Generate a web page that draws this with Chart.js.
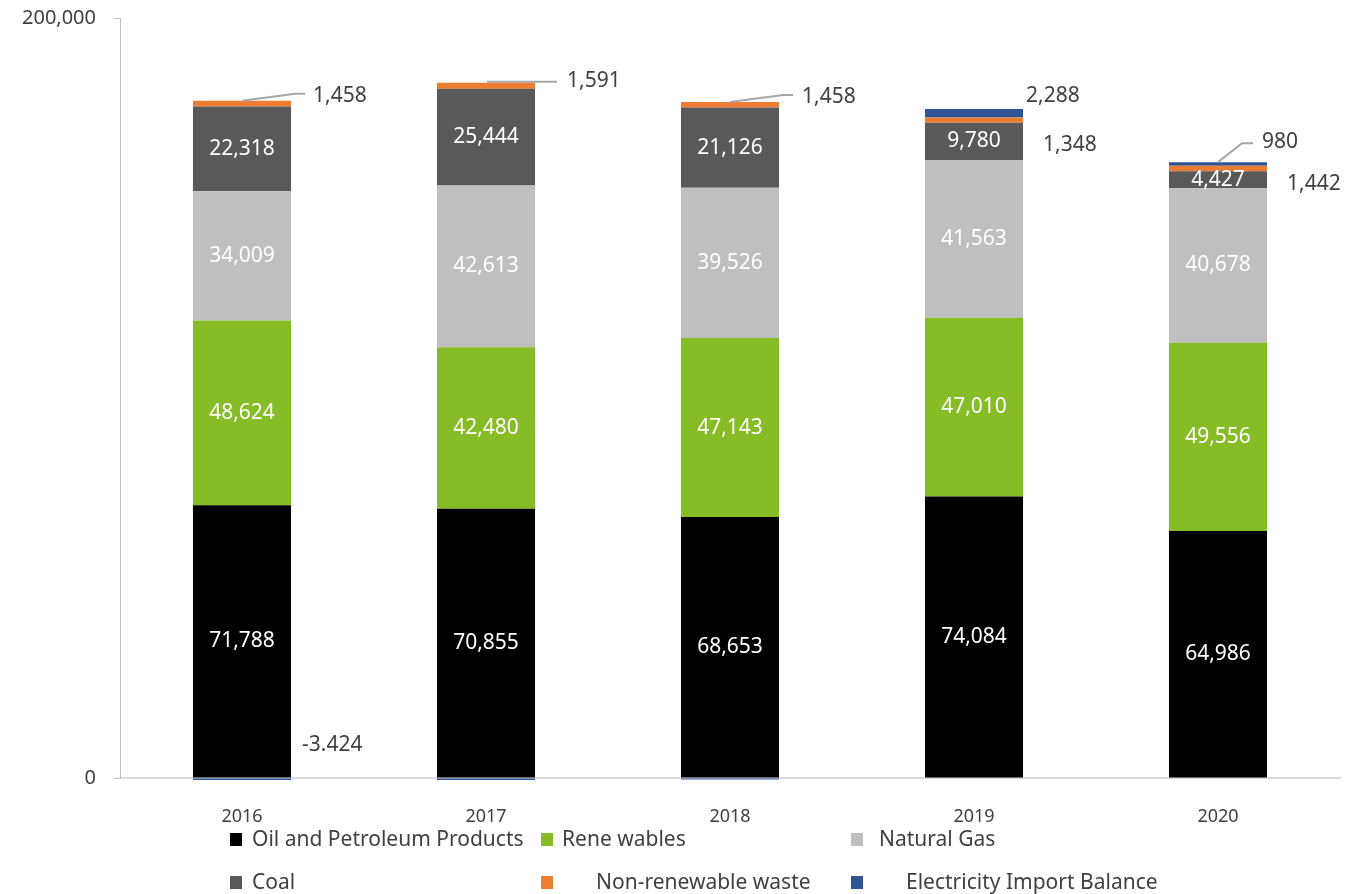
<!DOCTYPE html>
<html>
<head>
<meta charset="utf-8">
<script src="https://cdn.jsdelivr.net/npm/chart.js@4.4.1/dist/chart.umd.min.js"></script>
<style>
  html, body { margin: 0; padding: 0; background: #fff; }
  #wrap { position: relative; width: 1363px; height: 894px; overflow: hidden; }
  .lg-box { position: absolute; width: 12px; height: 13px; }
  .lg-text { position: absolute; font-family: "Noto Sans", sans-serif; font-size: 21px; color: #404040; line-height: 22px; white-space: nowrap; }
</style>
</head>
<body>
<div id="wrap">
  <canvas id="chart" width="1363" height="894"></canvas>
  <div id="legend"></div>
</div>
<script>
const years = ["2016", "2017", "2018", "2019", "2020"];
const oil = [71788, 70855, 68653, 74084, 64986];
const renewables = [48624, 42480, 47143, 47010, 49556];
const naturalGas = [34009, 42613, 39526, 41563, 40678];
const coal = [22318, 25444, 21126, 9780, 4427];
const waste = [1458, 1591, 1458, 1348, 1442];
const electricity = [-3424, -500, -400, 2288, 980];
const electricityText = ["-3.424", "", "", "2,288", "980"];
const yTicks = [0, 200000];

const seriesNames = ["Oil and Petroleum Products", "Rene wables", "Natural Gas", "Coal", "Non-renewable waste", "Electricity Import Balance"];
const colors = ["#000000", "#86bc25", "#bfbfbf", "#595959", "#ed7d31", "#2f5597"];

const fmt = (v) => v.toLocaleString("en-US");

// outside labels: offsets from bar centre / segment top, with optional leader line
const callouts = {
  "4-0": { tx: 71, ty: -5, line: [[0, 0], [53, -7], [63, -7]] },
  "4-1": { tx: 81, ty: -2, line: [[1, -1], [71, -1]] },
  "4-2": { tx: 72, ty: -5, line: [[0, 0], [53, -7], [63, -7]] },
  "4-3": { tx: 69, ty: 27 },
  "4-4": { tx: 69, ty: 18 },
  "5-0": { tx: 60, ty: -33 },
  "5-3": { tx: 52, ty: -13 },
  "5-4": { tx: 44, ty: -20, line: [[0, 0], [24, -19], [35, -19]] },
};

const labelPlugin = {
  id: "barLabels",
  afterDatasetsDraw(chart) {
    const ctx = chart.ctx;
    ctx.save();
    ctx.font = "21px 'Noto Sans'";
    ctx.textBaseline = "middle";
    chart.data.datasets.forEach((ds, di) => {
      const meta = chart.getDatasetMeta(di);
      meta.data.forEach((bar, i) => {
        const v = ds.data[i];
        const top = Math.min(bar.y, bar.base);
        if (di <= 3) {
          ctx.fillStyle = "#ffffff";
          ctx.textAlign = "center";
          ctx.fillText(fmt(v), bar.x, (bar.y + bar.base) / 2);
          return;
        }
        const c = callouts[di + "-" + i];
        if (!c) return;
        if (c.line) {
          ctx.strokeStyle = "#a6a6a6";
          ctx.lineWidth = 2;
          ctx.beginPath();
          c.line.forEach((p, k) => {
            const px = bar.x + p[0], py = top + p[1];
            if (k === 0) ctx.moveTo(px, py); else ctx.lineTo(px, py);
          });
          ctx.stroke();
        }
        ctx.fillStyle = "#404040";
        ctx.textAlign = "left";
        const text = di === 5 ? electricityText[i] : fmt(v);
        ctx.fillText(text, bar.x + c.tx, top + c.ty);
      });
    });
    ctx.restore();
  },
};

const seriesData = [oil, renewables, naturalGas, coal, waste, electricity];

new Chart(document.getElementById("chart"), {
  type: "bar",
  data: {
    labels: years,
    datasets: seriesData.map((d, i) => ({
      label: seriesNames[i],
      data: d,
      backgroundColor: colors[i],
      borderWidth: 0,
      categoryPercentage: 1,
      barPercentage: 0.402,
      clip: { left: 0, top: 0, right: 0, bottom: 2 },
    })),
  },
  options: {
    responsive: false,
    animation: false,
    layout: { padding: { top: 18, right: 23, bottom: 0, left: 0 } },
    plugins: { legend: { display: false }, tooltip: { enabled: false } },
    scales: {
      x: {
        stacked: true,
        grid: { display: false },
        border: { display: true, color: "#d9d9d9", width: 2 },
        ticks: { color: "#404040", font: { family: "Noto Sans", size: 18 }, padding: 20 },
        afterFit: (s) => { s.height = 116; s.paddingLeft = 0; s.paddingRight = 0; },
      },
      y: {
        stacked: true,
        min: 0,
        max: 200000,
        grid: { drawOnChartArea: false, drawTicks: true, tickLength: 6, color: "#bfbfbf" },
        border: { color: "#bfbfbf", width: 1 },
        ticks: { color: "#404040", font: { family: "Noto Sans", size: 20 }, padding: 18, callback: (v) => fmt(v) },
        afterBuildTicks: (s) => { s.ticks = yTicks.map((v) => ({ value: v })); },
        afterFit: (s) => { s.width = 120; s.paddingTop = 0; s.paddingBottom = 0; },
      },
    },
  },
  plugins: [labelPlugin],
});

// legend, drawn as html below the axis
const legendSpots = [
  { bx: 230, tx: 252, y: 839 },
  { bx: 541, tx: 562, y: 839 },
  { bx: 851, tx: 879, y: 839 },
  { bx: 230, tx: 252, y: 882 },
  { bx: 541, tx: 596, y: 882 },
  { bx: 851, tx: 906, y: 882 },
];
const legend = document.getElementById("legend");
seriesNames.forEach((name, i) => {
  const s = legendSpots[i];
  const box = document.createElement("div");
  box.className = "lg-box";
  box.style.left = s.bx + "px";
  box.style.top = (s.y - 6) + "px";
  box.style.background = colors[i];
  const t = document.createElement("div");
  t.className = "lg-text";
  t.style.left = s.tx + "px";
  t.style.top = (s.y - 12) + "px";
  t.textContent = name;
  legend.appendChild(box);
  legend.appendChild(t);
});
</script>
</body>
</html>
